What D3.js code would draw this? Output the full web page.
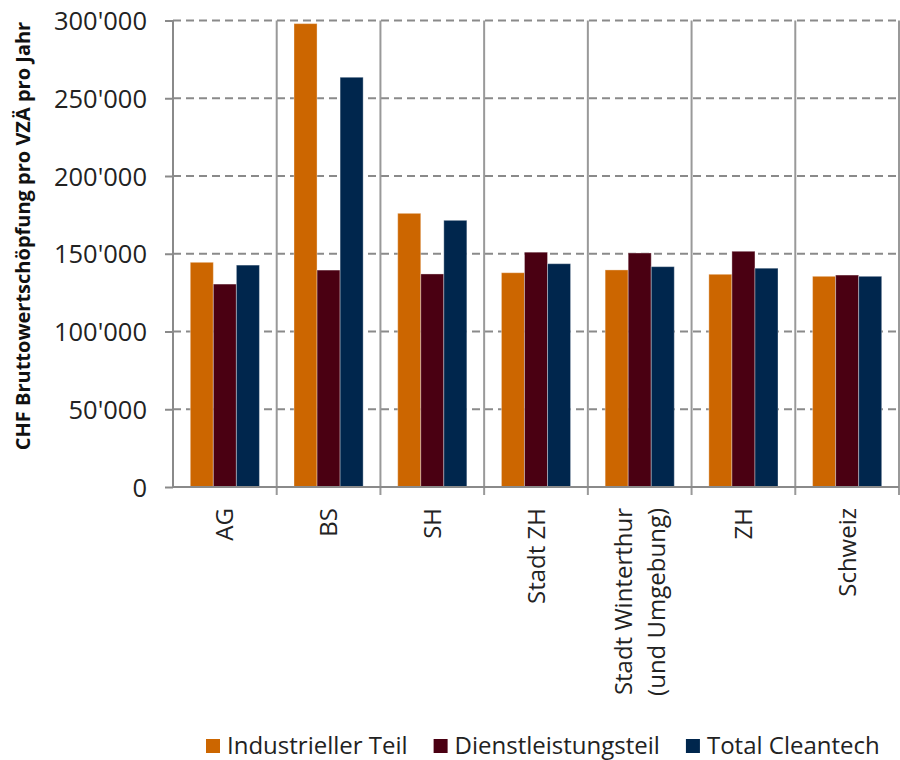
<!DOCTYPE html>
<html>
<head>
<meta charset="utf-8">
<script src="https://cdn.jsdelivr.net/npm/d3@7"></script>
<style>
  html, body { margin: 0; padding: 0; background: #fff; }
  svg { display: block; font-family: "Open Sans", "Noto Sans", sans-serif; }
</style>
</head>
<body>
<svg id="chart" width="900" height="760"></svg>
<script>
// Regions shown on the x axis (line breaks marked with \n)
const categories = ["AG", "BS", "SH", "Stadt ZH", "Stadt Winterthur\n(und Umgebung)", "ZH", "Schweiz"];

// Series names
const seriesNames = ["Industrieller Teil", "Dienstleistungsteil", "Total Cleantech"];

// CHF gross value added per FTE per year
const industriellerTeil   = [144500, 298000, 176000, 137800, 139600, 136800, 135500];
const dienstleistungsteil = [130500, 139500, 137000, 151000, 150500, 151600, 136300];
const totalCleantech      = [142700, 263500, 171500, 143600, 141700, 140700, 135500];

// Value axis ticks
const yTicks = [0, 50000, 100000, 150000, 200000, 250000, 300000];

const seriesValues = [industriellerTeil, dienstleistungsteil, totalCleantech];
const colors = ["#CC6600", "#4A0012", "#00264D"];

const svg = d3.select("#chart");
const W = 900, H = 760;
const m = { left: 173, top: 20.5 };
const plotRight = W - 1;
const plotBottom = 487;

const x0 = d3.scaleBand().domain(categories).range([m.left, plotRight]).padding(0);
const x1 = d3.scaleBand().domain(seriesNames).range([0, x0.bandwidth()])
  .paddingInner(0).paddingOuter(0.75);
const y = d3.scaleLinear().domain([0, 300000]).range([plotBottom, m.top]);

const swiss = d3.formatLocale({ decimal: ".", thousands: "'", grouping: [3], currency: ["CHF ", ""] });
const fmt = swiss.format(",");

// Horizontal dashed gridlines
svg.append("g")
  .selectAll("line")
  .data(yTicks.filter(d => d > 0))
  .join("line")
  .attr("x1", m.left).attr("x2", plotRight)
  .attr("y1", d => y(d)).attr("y2", d => y(d))
  .attr("stroke", "#8a8a8a").attr("stroke-width", 2)
  .attr("stroke-dasharray", "8,5");

// Vertical separators between categories (extend below axis as ticks)
const bounds = categories.map(c => x0(c) + x0.bandwidth());
svg.append("g")
  .selectAll("line")
  .data(bounds)
  .join("line")
  .attr("x1", d => d).attr("x2", d => d)
  .attr("y1", m.top).attr("y2", plotBottom + 8)
  .attr("stroke", "#999").attr("stroke-width", 2);

// Bars
const groups = svg.append("g")
  .selectAll("g")
  .data(categories)
  .join("g")
  .attr("transform", c => `translate(${x0(c)},0)`);

groups.selectAll("rect")
  .data((c, i) => seriesNames.map((s, k) => ({ s, k, v: seriesValues[k][i] })))
  .join("rect")
  .attr("x", d => x1(d.s))
  .attr("width", x1.bandwidth())
  .attr("y", d => y(d.v))
  .attr("height", d => plotBottom - y(d.v))
  .attr("fill", d => colors[d.k])
  .attr("stroke", "rgba(255,255,255,0.35)")
  .attr("stroke-width", 1);

// Y axis
const yAxis = svg.append("g")
  .attr("transform", `translate(${m.left},0)`)
  .call(d3.axisLeft(y).tickValues(yTicks).tickFormat(d => fmt(d)).tickSize(8).tickPadding(18));
yAxis.select(".domain").attr("stroke", "#8a8a8a").attr("stroke-width", 2)
  .attr("d", `M0,${m.top - 0.5}V${plotBottom}`);
yAxis.selectAll(".tick line").attr("stroke", "#8a8a8a").attr("stroke-width", 2);
yAxis.selectAll(".tick text")
  .attr("font-size", 25.5).attr("fill", "#222")
  .attr("font-family", "'Open Sans', sans-serif")
  .attr("dy", "0.36em");

// X axis baseline
svg.append("line")
  .attr("x1", m.left).attr("x2", plotRight)
  .attr("y1", plotBottom).attr("y2", plotBottom)
  .attr("stroke", "#8a8a8a").attr("stroke-width", 2);

// Category labels, rotated
const labelG = svg.append("g")
  .selectAll("text")
  .data(categories)
  .join("text")
  .attr("transform", c => `translate(${x0(c) + x0.bandwidth() / 2},508) rotate(-90)`)
  .attr("text-anchor", "end")
  .attr("font-size", 24)
  .attr("fill", "#222");
labelG.each(function (c) {
  const lines = c.split("\n");
  const t = d3.select(this);
  const lh = 33;
  lines.forEach((ln, i) => {
    const off = (i - (lines.length - 1) / 2) * lh;
    t.append("tspan").attr("x", 0).attr("y", off).attr("dy", "0.36em").text(ln);
  });
});

// Y axis title
svg.append("text")
  .attr("transform", "translate(30,236) rotate(-90)")
  .attr("text-anchor", "middle")
  .attr("font-size", 20)
  .attr("font-weight", "bold")
  .attr("fill", "#111")
  .text("CHF Bruttowertschöpfung pro VZÄ pro Jahr");

// Legend
const legend = svg.append("g").attr("transform", "translate(206,0)");
let lx = 0;
seriesNames.forEach((s, k) => {
  legend.append("rect")
    .attr("x", lx).attr("y", 739)
    .attr("width", 14).attr("height", 14)
    .attr("fill", colors[k]);
  const t = legend.append("text")
    .attr("x", lx + 21).attr("y", 754)
    .attr("font-size", 24)
    .attr("fill", "#222")
    .text(s);
  lx += 21 + t.node().getComputedTextLength() + 26;
});
</script>
</body>
</html>
